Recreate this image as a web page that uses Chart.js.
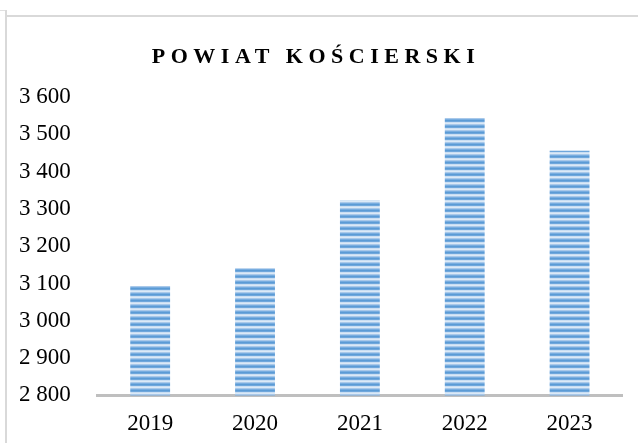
<!DOCTYPE html>
<html>
<head>
<meta charset="utf-8">
<script src="https://cdn.jsdelivr.net/npm/chart.js@4"></script>
<style>
  html, body { margin: 0; padding: 0; background: #fff; }
  #wrap { position: relative; width: 638px; height: 443px; overflow: hidden; }
  #frameV { position: absolute; left: 5px; top: 10px; width: 2px; height: 440px; background: #d9d9d9; }
  #frameH { position: absolute; left: 6px; top: 15px; width: 640px; height: 2px; background: #d9d9d9; }
  #frameT { position: absolute; left: 0; top: 10px; width: 6px; height: 1px; background: #e0e0e0; }
  canvas { position: absolute; left: 0; top: 0; }
</style>
</head>
<body>
<div id="wrap">
  <div id="frameT"></div>
  <div id="frameV"></div>
  <div id="frameH"></div>
  <canvas id="chart" width="638" height="443"></canvas>
</div>
<script>
const tytul = 'POWIAT KOŚCIERSKI';
const lata = ['2019', '2020', '2021', '2022', '2023'];
const wartosci = [3093, 3141, 3323, 3544, 3456];
const osY = { min: 2800, max: 3600, krok: 100 };

// paski poziome jak w oryginale
function wzorPaskow(ctx) {
  const c = document.createElement('canvas');
  c.width = 8;
  c.height = 6;
  const g = c.getContext('2d');
  const kolory = ['#5b9bd5', '#6fa7dc', '#c9def3', '#dbe9f7', '#a9c9ea', '#78ade0'];
  kolory.forEach((k, i) => {
    g.fillStyle = k;
    g.fillRect(0, i, 8, 1);
  });
  return ctx.createPattern(c, 'repeat');
}

const tytulPlugin = {
  id: 'tytulPlugin',
  afterDraw(chart) {
    const ctx = chart.ctx;
    ctx.save();
    ctx.font = 'bold 22px "Liberation Serif"';
    ctx.letterSpacing = '5.5px';
    ctx.fillStyle = '#000';
    ctx.textAlign = 'center';
    ctx.textBaseline = 'middle';
    ctx.fillText(tytul, 316, 57);
    ctx.restore();
  }
};

const ctx = document.getElementById('chart').getContext('2d');

new Chart(ctx, {
  type: 'bar',
  data: {
    labels: lata,
    datasets: [{
      data: wartosci,
      backgroundColor: wzorPaskow(ctx),
      borderWidth: 0,
      categoryPercentage: 1,
      barPercentage: 0.38
    }]
  },
  options: {
    responsive: false,
    animation: false,
    layout: { padding: { top: 97, left: 19, right: 16, bottom: -10 } },
    plugins: {
      legend: { display: false },
      title: { display: false },
      tooltip: { enabled: false }
    },
    scales: {
      x: {
        grid: { display: false, drawTicks: false },
        border: { display: true, color: '#bfbfbf', width: 3 },
        ticks: {
          color: '#000',
          padding: 15,
          font: { family: 'Liberation Serif', size: 23 }
        }
      },
      y: {
        min: osY.min,
        max: osY.max,
        grid: { display: false, drawTicks: false },
        border: { display: false },
        ticks: {
          stepSize: osY.krok,
          color: '#000',
          crossAlign: 'far',
          padding: 13.5,
          font: { family: 'Liberation Serif', size: 23 },
          callback: v => String(v).replace(/\B(?=(\d{3})+(?!\d))/g, ' ')
        }
      }
    }
  },
  plugins: [tytulPlugin]
});
</script>
</body>
</html>
